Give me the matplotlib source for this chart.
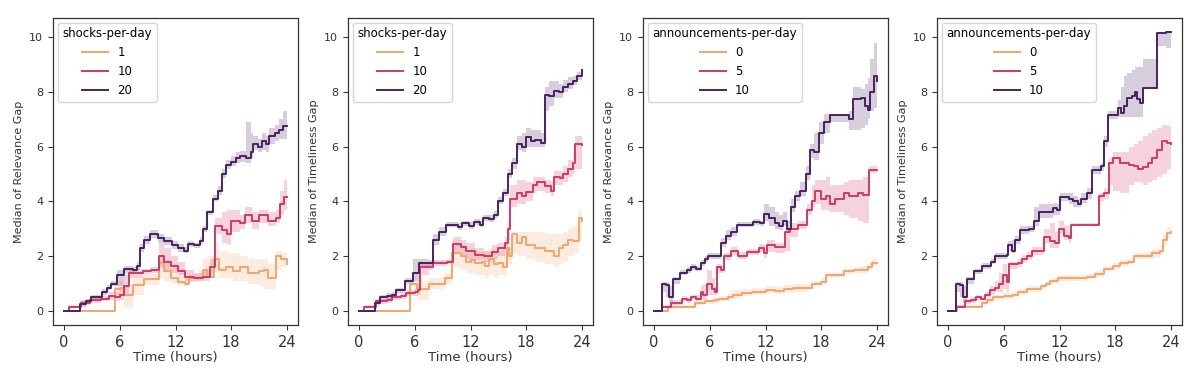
import matplotlib
matplotlib.use("Agg")
import matplotlib.pyplot as plt

# ─────────────────────────────────────────────────────────────
# Data: (hour, median, ci_low, ci_high); each value holds until next hour
# ─────────────────────────────────────────────────────────────

# Panel 1 — relevance gap vs shocks-per-day
REL_SHOCK_1 = [
    (0, 0, 0, 0), (5.5, 0.8, 0.6, 1.0), (6.0, 0.85, 0.5, 1.1), (6.5, 0.6, 0.15, 0.9),
    (7.4, 0.95, 0.6, 1.2), (8.6, 1.15, 0.95, 1.35), (10.2, 1.75, 1.2, 2.0),
    (10.8, 1.45, 1.1, 1.9), (11.5, 1.2, 1.0, 1.7), (12.3, 1.05, 0.95, 1.4),
    (13.0, 1.0, 0.9, 1.2), (13.5, 1.2, 1.05, 1.35), (14.5, 1.2, 1.1, 1.5),
    (15.0, 1.5, 1.2, 1.9), (15.4, 1.25, 1.2, 2.0), (16.1, 1.9, 1.4, 2.5),
    (16.7, 1.5, 1.2, 2.2), (17.4, 1.6, 1.2, 2.1), (18.2, 1.45, 1.1, 2.1),
    (19.0, 1.6, 1.1, 2.0), (19.8, 1.4, 1.0, 1.9), (21.0, 1.45, 0.9, 1.9),
    (21.5, 1.5, 0.8, 1.9), (22.0, 1.2, 0.8, 1.7), (22.8, 2.0, 1.5, 2.2),
    (23.4, 1.9, 1.6, 2.1), (24.0, 1.7, 1.5, 2.0),
]
REL_SHOCK_10 = [
    (0, 0, 0, 0), (0.5, 0.15, 0.1, 0.2), (1.8, 0.3, 0.2, 0.4), (2.8, 0.4, 0.3, 0.5),
    (4.0, 0.45, 0.35, 0.55), (4.8, 0.55, 0.4, 0.7), (5.5, 0.5, 0.35, 0.7),
    (6.0, 0.6, 0.4, 0.8), (6.5, 0.9, 0.6, 1.3), (7.0, 1.4, 1.2, 1.55),
    (8.5, 1.45, 1.35, 1.55), (9.4, 1.5, 1.4, 1.6), (10.2, 2.0, 1.6, 2.5),
    (10.8, 1.8, 1.5, 2.3), (11.5, 1.65, 1.4, 2.0), (12.3, 1.45, 1.3, 1.8),
    (13.0, 1.25, 1.1, 1.5), (14.0, 1.2, 1.1, 1.4), (15.0, 1.25, 1.1, 1.5),
    (15.7, 1.6, 1.3, 1.9), (16.3, 3.1, 2.8, 3.4), (17.0, 2.95, 2.5, 3.6),
    (17.6, 2.8, 2.4, 3.7), (18.0, 3.3, 2.9, 3.7), (19.0, 3.2, 3.0, 3.5),
    (19.5, 3.5, 3.2, 3.8), (20.2, 3.3, 3.0, 3.6), (21.0, 3.5, 3.2, 3.7),
    (22.0, 3.3, 3.1, 3.6), (22.8, 3.4, 3.2, 3.7), (23.3, 3.9, 3.5, 4.4),
    (23.7, 4.15, 3.7, 4.8), (24.0, 4.15, 3.7, 4.8),
]
REL_SHOCK_20 = [
    (0, 0, 0, 0), (1.7, 0.25, 0.15, 0.35), (2.4, 0.35, 0.25, 0.45), (2.9, 0.5, 0.4, 0.6),
    (4.1, 0.7, 0.6, 0.8), (4.6, 0.85, 0.75, 0.95), (5.0, 1.0, 0.9, 1.1),
    (5.7, 1.3, 0.9, 1.5), (6.4, 1.55, 1.4, 1.65), (7.4, 1.5, 1.4, 1.6),
    (7.9, 1.65, 1.5, 1.8), (8.2, 2.3, 2.15, 2.45), (8.6, 2.6, 2.45, 2.75),
    (9.2, 2.8, 2.65, 2.95), (10.1, 2.65, 2.5, 2.8), (10.8, 2.55, 2.4, 2.7),
    (11.6, 2.4, 2.25, 2.55), (12.3, 2.3, 2.15, 2.45), (12.9, 2.2, 2.1, 2.35),
    (13.3, 2.45, 2.35, 2.55), (14.0, 2.4, 2.3, 2.5), (14.6, 2.55, 2.45, 2.7),
    (15.0, 3.0, 2.9, 3.1), (15.4, 3.6, 3.5, 3.7), (16.0, 4.1, 4.0, 4.25),
    (16.6, 4.4, 4.25, 4.55), (17.0, 5.0, 4.85, 5.2), (17.4, 5.35, 5.2, 5.5),
    (18.0, 5.45, 5.3, 5.65), (18.5, 5.6, 5.4, 5.8), (19.0, 5.65, 5.45, 5.85),
    (19.6, 5.6, 5.4, 6.9), (20.1, 5.8, 5.6, 6.5), (20.4, 6.1, 5.9, 6.4),
    (20.9, 6.0, 5.8, 6.3), (21.3, 6.2, 5.9, 6.5), (21.7, 6.1, 5.8, 6.4),
    (22.1, 6.4, 6.1, 6.7), (22.7, 6.5, 6.2, 6.8), (23.2, 6.6, 6.3, 7.0),
    (23.6, 6.75, 6.3, 7.3), (24.0, 6.75, 6.4, 7.4),
]

# Panel 2 — timeliness gap vs shocks-per-day
TIME_SHOCK_1 = [
    (0, 0, 0, 0), (5.5, 1.0, 0.9, 1.1), (6.2, 0.8, 0.4, 1.1), (7.5, 1.0, 0.8, 1.2),
    (9.2, 1.2, 1.0, 1.4), (10.0, 2.1, 1.6, 2.6), (11.0, 2.0, 1.5, 2.4),
    (11.5, 1.8, 1.4, 2.2), (12.0, 1.85, 1.4, 2.3), (12.5, 1.75, 1.3, 2.2),
    (13.2, 1.8, 1.3, 2.2), (13.6, 1.65, 1.2, 2.2), (14.0, 1.9, 1.3, 2.3),
    (14.5, 1.7, 1.2, 2.2), (15.0, 1.75, 1.3, 2.2), (15.5, 1.6, 1.3, 2.3),
    (15.9, 2.3, 1.6, 2.6), (16.2, 2.0, 1.7, 2.5), (16.5, 2.8, 2.1, 2.9),
    (17.0, 2.5, 2.0, 2.9), (17.5, 2.7, 2.0, 2.9), (18.0, 2.4, 1.9, 2.9),
    (19.0, 2.3, 1.8, 2.9), (20.0, 2.2, 1.7, 2.8), (21.0, 2.0, 1.6, 2.8),
    (21.5, 2.3, 1.7, 2.8), (22.0, 2.4, 1.8, 2.9), (22.5, 2.6, 2.0, 3.0),
    (23.0, 2.55, 2.1, 3.1), (23.7, 3.4, 2.6, 3.7), (24.0, 3.3, 2.5, 3.7),
]
TIME_SHOCK_10 = [
    (0, 0, 0, 0), (0.5, 0.15, 0.1, 0.2), (1.8, 0.35, 0.25, 0.45), (3.0, 0.4, 0.3, 0.5),
    (3.5, 0.5, 0.4, 0.6), (4.5, 0.55, 0.45, 0.65), (5.0, 0.65, 0.55, 0.75),
    (6.0, 0.7, 0.55, 0.85), (6.3, 0.75, 0.6, 1.0), (6.6, 1.6, 1.3, 1.7),
    (7.5, 1.6, 1.5, 1.7), (8.0, 1.75, 1.65, 1.85), (9.5, 1.8, 1.7, 1.9),
    (10.1, 2.45, 2.1, 2.7), (11.0, 2.35, 2.0, 2.6), (11.5, 2.2, 1.9, 2.5),
    (12.5, 2.05, 1.85, 2.3), (13.5, 2.0, 1.8, 2.2), (14.3, 2.15, 1.9, 2.4),
    (15.0, 2.3, 2.0, 2.5), (15.7, 2.5, 2.2, 2.7), (16.0, 3.0, 2.6, 3.3),
    (16.3, 4.1, 3.8, 4.6), (17.0, 4.3, 3.9, 4.8), (17.5, 4.2, 3.9, 4.8),
    (18.0, 4.35, 4.0, 4.7), (18.7, 4.6, 4.3, 4.9), (19.2, 4.7, 4.4, 4.9),
    (20.0, 4.55, 4.3, 4.8), (20.7, 4.4, 4.2, 4.7), (21.0, 4.9, 4.6, 5.1),
    (21.6, 4.85, 4.6, 5.1), (22.0, 5.0, 4.7, 5.3), (22.5, 5.2, 4.9, 5.5),
    (23.0, 5.4, 5.0, 5.8), (23.3, 6.1, 5.2, 6.4), (24.0, 6.05, 5.2, 6.5),
]
TIME_SHOCK_20 = [
    (0, 0, 0, 0), (1.7, 0.3, 0.2, 0.4), (2.2, 0.5, 0.4, 0.6), (3.0, 0.55, 0.45, 0.65),
    (3.5, 0.6, 0.5, 0.7), (4.0, 0.75, 0.65, 0.85), (4.9, 1.1, 1.0, 1.2),
    (5.8, 1.4, 1.1, 1.9), (6.5, 1.75, 1.6, 1.9), (7.5, 1.75, 1.65, 1.85),
    (8.0, 2.6, 2.4, 2.8), (8.6, 2.9, 2.75, 3.05), (9.4, 3.15, 3.05, 3.25),
    (10.6, 3.05, 2.95, 3.2), (11.1, 3.2, 3.1, 3.3), (11.8, 3.1, 3.0, 3.25),
    (12.4, 3.25, 3.15, 3.35), (13.0, 3.15, 3.05, 3.3), (13.4, 3.4, 3.3, 3.5),
    (14.0, 3.35, 3.25, 3.5), (14.5, 3.5, 3.4, 3.65), (15.0, 4.0, 3.9, 4.15),
    (15.5, 4.3, 4.2, 4.45), (16.0, 5.0, 4.85, 5.2), (16.5, 5.4, 5.2, 5.6),
    (17.0, 6.1, 5.9, 6.4), (17.5, 6.0, 5.8, 6.5), (18.0, 6.35, 6.0, 6.7),
    (18.5, 6.2, 6.0, 6.6), (19.0, 6.25, 6.0, 6.6), (19.6, 6.15, 6.0, 6.5),
    (20.0, 7.9, 7.3, 8.2), (20.5, 7.85, 7.5, 8.4), (21.0, 8.05, 7.8, 8.4),
    (21.5, 8.0, 7.8, 8.3), (22.0, 8.2, 8.0, 8.45), (22.5, 8.3, 8.1, 8.55),
    (23.0, 8.4, 8.25, 8.6), (23.5, 8.6, 8.45, 8.75), (24.0, 8.8, 8.6, 8.9),
]

# Panel 3 — relevance gap vs announcements-per-day
REL_ANN_0 = [
    (0, 0, 0, 0), (1.5, 0.15, 0.1, 0.2), (4.4, 0.3, 0.2, 0.35), (5.5, 0.35, 0.25, 0.45),
    (6.5, 0.4, 0.3, 0.5), (7.0, 0.45, 0.35, 0.55), (8.0, 0.5, 0.4, 0.65),
    (8.5, 0.6, 0.45, 0.75), (9.5, 0.65, 0.55, 0.8), (10.5, 0.7, 0.6, 0.85),
    (12.0, 0.75, 0.65, 0.9), (13.0, 0.72, 0.62, 0.88), (14.0, 0.8, 0.65, 0.95),
    (15.0, 0.85, 0.7, 1.0), (16.5, 0.85, 0.75, 1.0), (17.0, 1.0, 0.9, 1.1),
    (18.0, 1.05, 0.95, 1.2), (18.5, 1.3, 1.2, 1.4), (19.5, 1.3, 1.2, 1.4),
    (20.5, 1.45, 1.35, 1.55), (21.5, 1.5, 1.4, 1.6), (22.5, 1.5, 1.4, 1.65),
    (23.0, 1.6, 1.5, 1.75), (23.5, 1.75, 1.65, 1.9), (24.0, 1.75, 1.65, 1.9),
]
REL_ANN_5 = [
    (0, 0, 0, 0), (0.8, 0.15, 0.1, 0.2), (1.8, 0.3, 0.2, 0.4), (2.5, 0.3, 0.2, 0.4),
    (3.0, 0.45, 0.35, 0.55), (3.5, 0.4, 0.3, 0.5), (4.0, 0.5, 0.4, 0.6),
    (4.5, 0.45, 0.35, 0.6), (5.0, 0.7, 0.5, 0.9), (5.3, 0.6, 0.4, 1.0),
    (5.7, 1.0, 0.6, 1.5), (6.2, 0.8, 0.6, 1.2), (6.6, 0.7, 0.6, 0.9),
    (6.8, 1.6, 1.4, 1.7), (7.2, 1.5, 1.4, 1.65), (7.5, 2.0, 1.85, 2.1),
    (8.3, 2.2, 2.05, 2.35), (9.0, 2.0, 1.9, 2.15), (10.0, 2.15, 2.05, 2.25),
    (11.3, 2.3, 2.15, 2.45), (11.8, 2.1, 1.95, 2.4), (12.2, 2.4, 2.15, 2.6),
    (13.0, 2.35, 2.1, 2.5), (14.1, 2.9, 2.2, 3.0), (14.6, 3.0, 2.7, 3.2),
    (15.5, 3.15, 3.0, 3.3), (16.5, 3.7, 3.5, 3.9), (17.0, 4.0, 3.8, 4.6),
    (17.3, 4.4, 3.9, 4.8), (18.0, 4.1, 3.7, 4.8), (18.5, 4.2, 3.7, 4.9),
    (19.0, 3.9, 3.6, 4.6), (19.5, 4.1, 3.6, 4.6), (20.5, 4.3, 3.5, 4.7),
    (21.0, 4.2, 3.4, 4.8), (22.0, 4.3, 3.3, 4.8), (22.5, 4.25, 3.2, 4.9),
    (23.2, 5.15, 5.05, 5.3), (24.0, 5.15, 5.05, 5.25),
]
REL_ANN_10 = [
    (0, 0, 0, 0), (0.8, 1.0, 0.7, 1.05), (1.3, 0.95, 0.5, 1.05), (1.6, 0.5, 0.3, 0.9),
    (2.0, 1.15, 1.0, 1.25), (2.8, 1.4, 1.3, 1.5), (3.5, 1.5, 1.4, 1.6),
    (4.0, 1.6, 1.5, 1.7), (4.5, 1.55, 1.45, 1.65), (5.0, 1.75, 1.65, 1.85),
    (5.5, 1.9, 1.8, 2.0), (5.8, 2.0, 1.9, 2.1), (7.2, 2.5, 2.35, 2.65),
    (7.7, 2.75, 2.6, 2.95), (8.3, 2.9, 2.75, 3.05), (8.9, 3.15, 3.05, 3.25),
    (10.6, 3.25, 3.15, 3.35), (11.4, 3.2, 3.1, 3.3), (11.8, 3.55, 3.3, 3.9),
    (12.4, 3.4, 3.1, 3.8), (13.0, 3.2, 3.0, 3.6), (13.5, 3.1, 2.95, 3.5),
    (13.9, 3.3, 3.1, 3.6), (14.3, 3.0, 2.9, 3.3), (14.7, 3.8, 3.6, 4.1),
    (15.2, 4.2, 4.0, 4.4), (15.7, 4.4, 4.2, 4.7), (16.4, 5.0, 4.8, 5.3),
    (16.8, 5.9, 5.6, 6.1), (17.2, 5.8, 5.5, 6.5), (17.8, 6.5, 6.1, 6.9),
    (18.3, 6.9, 6.5, 7.2), (19.0, 7.15, 6.9, 7.2), (21.0, 7.0, 6.6, 7.3),
    (21.4, 7.75, 6.6, 8.2), (22.3, 7.8, 6.7, 8.1), (22.7, 7.5, 6.8, 8.3),
    (23.0, 7.35, 7.0, 8.5), (23.3, 8.0, 7.3, 9.2), (23.7, 8.6, 7.4, 9.8),
    (24.0, 8.4, 7.2, 9.6),
]

# Panel 4 — timeliness gap vs announcements-per-day
TIME_ANN_0 = [
    (0, 0, 0, 0), (1.0, 0.15, 0.1, 0.2), (3.6, 0.3, 0.2, 0.35), (4.2, 0.4, 0.3, 0.5),
    (4.8, 0.5, 0.4, 0.6), (6.0, 0.55, 0.45, 0.65), (7.0, 0.6, 0.5, 0.7),
    (7.5, 0.7, 0.6, 0.8), (8.5, 0.8, 0.7, 0.9), (10.0, 0.9, 0.8, 1.0),
    (10.5, 1.0, 0.9, 1.1), (11.0, 1.1, 1.0, 1.2), (11.8, 1.2, 1.1, 1.3),
    (15.0, 1.25, 1.15, 1.35), (15.8, 1.35, 1.25, 1.45), (16.8, 1.55, 1.45, 1.65),
    (17.8, 1.65, 1.55, 1.75), (18.5, 1.75, 1.65, 1.85), (19.4, 1.8, 1.7, 1.9),
    (20.0, 2.0, 1.9, 2.1), (21.5, 2.0, 1.9, 2.15), (22.0, 2.1, 1.95, 2.25),
    (22.8, 2.2, 2.05, 2.35), (23.2, 2.6, 2.4, 2.8), (23.6, 2.85, 2.65, 3.05),
    (24.0, 2.9, 2.7, 3.1),
]
TIME_ANN_5 = [
    (0, 0, 0, 0), (0.8, 0.15, 0.1, 0.2), (1.8, 0.35, 0.25, 0.45), (2.5, 0.4, 0.3, 0.5),
    (3.0, 0.5, 0.4, 0.6), (3.5, 0.45, 0.35, 0.55), (4.0, 0.6, 0.5, 0.7),
    (4.5, 0.75, 0.6, 0.9), (5.0, 0.85, 0.7, 1.1), (5.5, 1.0, 0.7, 1.4),
    (5.9, 1.3, 0.8, 1.7), (6.3, 1.05, 0.7, 1.3), (6.6, 1.7, 1.55, 1.8),
    (7.5, 1.75, 1.6, 1.9), (8.0, 1.9, 1.75, 2.05), (8.5, 2.0, 1.85, 2.15),
    (9.0, 2.2, 2.05, 2.35), (10.3, 2.7, 2.5, 3.0), (11.0, 2.55, 2.3, 3.2),
    (11.5, 2.5, 2.3, 2.9), (11.9, 3.0, 2.8, 3.3), (12.5, 2.75, 2.6, 3.1),
    (13.0, 2.65, 2.5, 2.9), (13.2, 3.15, 3.1, 3.2), (16.3, 4.2, 4.0, 4.3),
    (16.8, 4.3, 4.1, 4.5), (17.3, 5.4, 4.6, 5.6), (17.8, 5.6, 4.4, 5.8),
    (18.5, 5.4, 4.3, 5.8), (19.5, 5.35, 4.6, 6.0), (20.0, 5.3, 4.7, 6.1),
    (20.5, 5.2, 4.7, 6.2), (21.0, 5.25, 4.6, 6.4), (21.5, 5.4, 4.7, 6.5),
    (22.0, 5.6, 4.8, 6.6), (22.5, 5.9, 4.9, 6.7), (23.0, 6.2, 5.0, 6.8),
    (23.6, 6.15, 5.2, 6.75), (24.0, 6.1, 5.2, 6.7),
]
TIME_ANN_10 = [
    (0, 0, 0, 0), (0.8, 1.0, 0.7, 1.05), (1.3, 0.95, 0.5, 1.05), (1.6, 0.5, 0.3, 0.9),
    (2.0, 1.15, 1.0, 1.25), (2.8, 1.45, 1.35, 1.55), (3.6, 1.65, 1.55, 1.75),
    (4.6, 1.8, 1.7, 1.9), (5.0, 2.0, 1.9, 2.1), (6.3, 2.05, 1.95, 2.15),
    (6.5, 2.4, 2.2, 2.55), (6.9, 2.2, 2.1, 2.6), (7.2, 2.6, 2.45, 2.75),
    (7.7, 2.95, 2.8, 3.1), (8.7, 3.0, 2.9, 3.1), (9.2, 3.3, 3.1, 3.8),
    (9.8, 3.6, 3.4, 3.9), (11.0, 3.6, 3.4, 3.9), (11.3, 3.75, 3.5, 3.95),
    (11.7, 3.7, 3.5, 3.9), (12.0, 4.15, 4.0, 4.3), (13.0, 4.1, 3.9, 4.3),
    (13.5, 4.0, 3.8, 4.2), (14.0, 3.9, 3.8, 4.1), (14.3, 4.1, 3.95, 4.3),
    (15.0, 4.3, 4.1, 4.5), (15.5, 5.15, 5.0, 5.3), (16.5, 5.3, 5.1, 5.4),
    (16.8, 6.2, 6.0, 6.4), (17.2, 7.15, 7.0, 7.3), (18.3, 7.4, 7.1, 7.7),
    (18.6, 7.25, 7.1, 8.2), (19.0, 7.5, 7.1, 8.6), (19.3, 7.8, 7.1, 8.7),
    (19.8, 7.85, 7.1, 8.8), (20.1, 8.0, 7.1, 8.9), (20.4, 7.75, 7.1, 8.9),
    (20.7, 7.6, 7.1, 8.9), (21.0, 8.15, 8.15, 9.2), (22.5, 10.15, 9.7, 10.2),
    (23.5, 10.2, 9.6, 10.2), (24.0, 10.2, 9.6, 10.2),
]

SHOCK_LEVELS = ["1", "10", "20"]
ANN_LEVELS = ["0", "5", "10"]
COLORS = ["#f2a66c", "#cf3a66", "#4a2162"]

PANELS = [
    ("shocks-per-day", SHOCK_LEVELS, [REL_SHOCK_1, REL_SHOCK_10, REL_SHOCK_20],
     "Median of Relevance Gap"),
    ("shocks-per-day", SHOCK_LEVELS, [TIME_SHOCK_1, TIME_SHOCK_10, TIME_SHOCK_20],
     "Median of Timeliness Gap"),
    ("announcements-per-day", ANN_LEVELS, [REL_ANN_0, REL_ANN_5, REL_ANN_10],
     "Median of Relevance Gap"),
    ("announcements-per-day", ANN_LEVELS, [TIME_ANN_0, TIME_ANN_5, TIME_ANN_10],
     "Median of Timeliness Gap"),
]

# ─────────────────────────────────────────────────────────────
# Plot
# ─────────────────────────────────────────────────────────────

fig = plt.figure(figsize=(11.94, 3.73), dpi=100)
lefts = [53, 348, 643, 937]
for left, (hue_name, levels, series, ylabel) in zip(lefts, PANELS):
    ax = fig.add_axes([left / 1194, 0.129, 245 / 1194, 0.823])
    for lvl, color, pts in zip(levels, COLORS, series):
        t = [p[0] for p in pts]
        y = [p[1] for p in pts]
        lo = [p[2] for p in pts]
        hi = [p[3] for p in pts]
        ax.fill_between(t, lo, hi, step="post", color=color, alpha=0.22, linewidth=0)
        ax.plot(t, y, drawstyle="steps-post", color=color, linewidth=1.4, label=lvl)

    ax.set_xlim(-1.2, 25.2)
    ax.set_ylim(-0.51, 10.71)
    ax.set_xticks([0, 6, 12, 18, 24])
    ax.set_yticks([0, 2, 4, 6, 8, 10])
    ax.tick_params(axis="x", labelsize=10.5, colors="#333333")
    ax.tick_params(axis="y", labelsize=8, colors="#333333")
    for sp in ax.spines.values():
        sp.set_color("#333333")
        sp.set_linewidth(0.9)
    ax.set_xlabel("Time (hours)", fontsize=9.5, color="#333333", labelpad=1)
    ax.set_ylabel(ylabel, fontsize=8, color="#333333")
    ax.legend(title=hue_name, loc="upper left", fontsize=8.5, title_fontsize=8.5,
              handlelength=2.2, borderaxespad=0.4)

fig.savefig("out.png", dpi=100)
